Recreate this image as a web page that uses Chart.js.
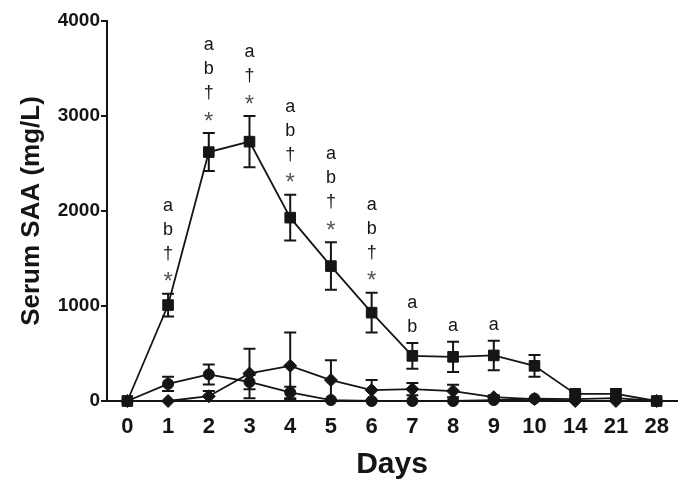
<!DOCTYPE html>
<html>
<head>
<meta charset="utf-8">
<script src="https://cdn.jsdelivr.net/npm/chart.js@4.4.1/dist/chart.umd.min.js"></script>
<style>
  html, body { margin: 0; padding: 0; background: #fff; }
  #wrap { width: 692px; height: 496px; }
</style>
</head>
<body>
<div id="wrap"><canvas id="chart"></canvas></div>
<script>
// serum SAA by day (mg/L)
const days = ['0', '1', '2', '3', '4', '5', '6', '7', '8', '9', '10', '14', '21', '28'];

const squareMean = [0, 1010, 2620, 2730, 1930, 1420, 930, 475, 465, 480, 370, 75, 75, 0];
const squareErr  = [0, 120, 200, 270, 240, 250, 210, 135, 160, 155, 115, 20, 50, 0];

const circleMean = [0, 180, 280, 200, 90, 10, 0, 0, 0, 10, 25, 20, 30, 0];
const circleErr  = [0, 75, 105, 75, 60, 0, 0, 0, 0, 0, 0, 0, 0, 0];

const diamondMean = [0, 0, 50, 290, 370, 220, 115, 125, 105, 40, 20, 0, 0, 0];
const diamondErr  = [0, 0, 55, 260, 350, 210, 105, 65, 65, 20, 0, 0, 0, 0];

// significance marks above the square series
const sigMarks = [
    [], ['a', 'b', '†', '*'], ['a', 'b', '†', '*'], ['a', '†', '*'],
    ['a', 'b', '†', '*'], ['a', 'b', '†', '*'], ['a', 'b', '†', '*'],
    ['a', 'b'], ['a'], ['a'], [], [], [], []
];

const yTicks = [0, 1000, 2000, 3000, 4000];

const ink = '#151515';
const font = '"Liberation Sans", Arial, Helvetica, sans-serif';

const errorBars = {
    id: 'errorBars',
    beforeDatasetsDraw(chart) {
        const { ctx, scales: { x, y } } = chart;
        ctx.save();
        ctx.strokeStyle = ink;
        ctx.lineWidth = 2;
        chart.data.datasets.forEach(ds => {
            ds.mean.forEach((v, i) => {
                const e = ds.err[i];
                if (!e) return;
                const px = x.getPixelForValue(i);
                const top = y.getPixelForValue(v + e);
                const bot = y.getPixelForValue(Math.max(0, v - e));
                ctx.beginPath();
                ctx.moveTo(px, top); ctx.lineTo(px, bot);
                ctx.moveTo(px - 6, top); ctx.lineTo(px + 6, top);
                ctx.moveTo(px - 6, bot); ctx.lineTo(px + 6, bot);
                ctx.stroke();
            });
        });
        ctx.restore();
    }
};

const sigLabels = {
    id: 'sigLabels',
    afterDraw(chart) {
        const { ctx, scales: { x, y } } = chart;
        ctx.save();
        ctx.fillStyle = ink;
        ctx.textAlign = 'center';
        ctx.textBaseline = 'middle';
        sigMarks.forEach((marks, i) => {
            if (!marks.length) return;
            const px = x.getPixelForValue(i);
            const base = y.getPixelForValue(squareMean[i] + squareErr[i]) - 16;
            marks.slice().reverse().forEach((m, k) => {
                const star = m === '*';
                ctx.font = (star ? '24px ' : '18px ') + font;
                ctx.fillStyle = star ? '#555' : ink;
                ctx.fillText(m, px, base - k * 24 + (star ? 5 : 0));
            });
        });
        ctx.restore();
    }
};

const series = (mean, err, style, radius) => ({
    data: mean,
    mean, err,
    borderColor: ink,
    backgroundColor: ink,
    borderWidth: 1.8,
    pointStyle: style,
    pointRadius: radius,
    pointBorderWidth: 1,
    pointBackgroundColor: ink,
    pointBorderColor: ink,
    tension: 0,
    clip: false
});

new Chart(document.getElementById('chart'), {
    type: 'line',
    data: {
        labels: days,
        datasets: [
            series(squareMean, squareErr, 'rect', 7.5),
            series(circleMean, circleErr, 'circle', 5.5),
            series(diamondMean, diamondErr, 'rectRot', 6.5)
        ]
    },
    options: {
        responsive: true,
        maintainAspectRatio: false,
        animation: false,
        layout: { padding: { top: 21, right: 15, left: 0, bottom: 0 } },
        plugins: { legend: { display: false }, tooltip: { enabled: false } },
        scales: {
            x: {
                offset: true,
                grid: { display: false, drawTicks: false },
                border: { display: true, color: ink, width: 2 },
                ticks: { color: ink, padding: 13, font: { family: font, size: 22, weight: 'bold' } },
                title: {
                    display: true, text: 'Days', color: ink,
                    font: { family: font, size: 30, weight: 'bold', lineHeight: 1 },
                    padding: { top: 0, bottom: 16 }
                },
                afterFit(scale) { scale.height = 95; }
            },
            y: {
                min: 0, max: 4000,
                afterBuildTicks(scale) { scale.ticks = yTicks.map(v => ({ value: v })); },
                grid: { drawOnChartArea: false, drawTicks: true, tickLength: 6, color: ink, lineWidth: 2 },
                border: { display: true, color: ink, width: 2 },
                ticks: {
                    color: ink, padding: 1,
                    font: { family: font, size: 19, weight: 'bold' },
                    callback: v => String(v)
                },
                title: {
                    display: true, text: 'Serum SAA (mg/L)', color: ink,
                    font: { family: font, size: 26, weight: 'bold', lineHeight: 1 },
                    padding: { top: 19, bottom: 0 }
                },
                afterFit(scale) { scale.width = 107; }
            }
        }
    },
    plugins: [errorBars, sigLabels]
});
</script>
</body>
</html>
